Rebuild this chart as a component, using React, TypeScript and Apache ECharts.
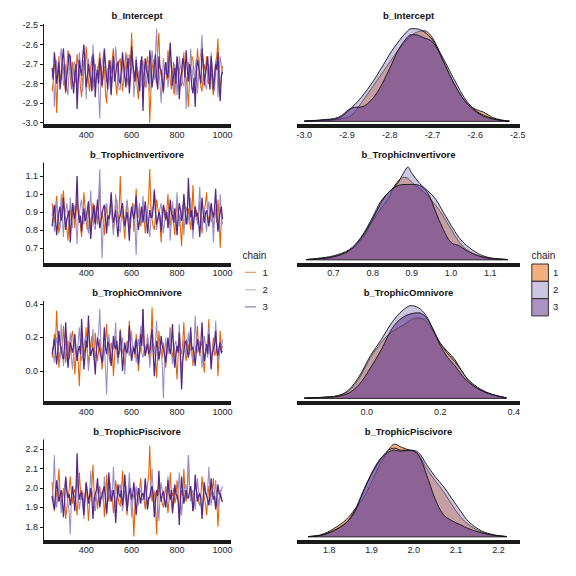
import React, { useEffect, useRef } from "react";
import * as echarts from "echarts";

// ---------- data ----------
const parameters = ["b_Intercept", "b_TrophicInvertivore", "b_TrophicOmnivore", "b_TrophicPiscivore"];
const chains = ["1", "2", "3"];
const chainColors = ["#e66101", "#998ec3", "#542788"];
const firstIteration = 250;
const iterationStep = 5;
const iterationTicks = [400, 600, 800, 1000];

const interceptChain1 = [
  -2.84, -2.79, -2.70, -2.73, -2.95, -2.81, -2.66, -2.75, -2.78, -2.69, -2.72, -2.80, -2.85, -2.71, -2.63, -2.68, -2.76, -2.83, -2.69, -2.74,
  -2.80, -2.76, -2.65, -2.71, -2.74, -2.82, -2.87, -2.77, -2.68, -2.73, -2.61, -2.70, -2.79, -2.84, -2.72, -2.66, -2.83, -2.75, -2.70, -2.78,
  -2.76, -2.70, -2.64, -2.77, -2.82, -2.74, -2.71, -2.85, -2.90, -2.78, -2.68, -2.72, -2.75, -2.67, -2.62, -2.73, -2.80, -2.86, -2.73, -2.69,
  -2.67, -2.75, -2.84, -2.78, -2.70, -2.64, -2.77, -2.81, -2.65, -2.71, -2.54, -2.69, -2.79, -2.74, -2.72, -2.83, -2.88, -2.76, -2.68, -2.73,
  -2.74, -2.79, -2.82, -2.70, -2.66, -2.77, -3.00, -2.84, -2.73, -2.68, -2.69, -2.76, -2.80, -2.63, -2.54, -2.72, -2.76, -2.81, -2.85, -2.74,
  -2.70, -2.78, -2.63, -2.72, -2.78, -2.83, -2.74, -2.69, -2.86, -2.75, -2.67, -2.73, -2.72, -2.80, -2.81, -2.71, -2.64, -2.76, -2.77, -2.82,
  -2.92, -2.77, -2.71, -2.66, -2.68, -2.75, -2.79, -2.73, -2.62, -2.70, -2.75, -2.82, -2.84, -2.76, -2.70, -2.74, -2.66, -2.79, -2.80, -2.72,
  -2.73, -2.81, -2.86, -2.75, -2.69, -2.66, -2.57, -2.74, -2.82, -2.77, -2.71,
];
const interceptChain2 = [
  -2.77, -2.71, -2.92, -2.80, -2.68, -2.76, -2.74, -2.67, -2.62, -2.73, -2.81, -2.78, -2.70, -2.82, -2.86, -2.72, -2.66, -2.79, -2.75, -2.70,
  -2.69, -2.77, -2.83, -2.74, -2.64, -2.71, -2.78, -2.84, -2.72, -2.69, -2.88, -2.75, -2.67, -2.73, -2.76, -2.80, -2.60, -2.70, -2.82, -2.77,
  -2.71, -2.85, -2.98, -2.76, -2.70, -2.66, -2.63, -2.74, -2.79, -2.72, -2.74, -2.81, -2.85, -2.77, -2.68, -2.73, -2.61, -2.70, -2.77, -2.83,
  -2.83, -2.75, -2.69, -2.78, -2.75, -2.70, -2.65, -2.72, -2.80, -2.76, -2.72, -2.67, -2.87, -2.79, -2.66, -2.73, -2.74, -2.84, -2.81, -2.71,
  -2.68, -2.74, -2.77, -2.82, -2.71, -2.76, -2.84, -2.70, -2.63, -2.69, -2.78, -2.65, -2.52, -2.71, -2.73, -2.80, -2.90, -2.77, -2.67, -2.74,
  -2.75, -2.69, -2.82, -2.76, -2.64, -2.72, -2.79, -2.85, -2.70, -2.74, -2.86, -2.78, -2.66, -2.71, -2.74, -2.80, -2.81, -2.73, -2.93, -2.79,
  -2.69, -2.75, -2.62, -2.71, -2.78, -2.83, -2.72, -2.67, -2.85, -2.76, -2.68, -2.64, -2.55, -2.72, -2.76, -2.81, -2.83, -2.74, -2.70, -2.77,
  -2.64, -2.72, -2.79, -2.84, -2.73, -2.68, -2.87, -2.76, -2.66, -2.71, -2.75,
];
const interceptChain3 = [
  -2.72, -2.78, -2.64, -2.70, -2.80, -2.75, -2.69, -2.83, -2.77, -2.68, -2.62, -2.73, -2.84, -2.76, -2.71, -2.65, -2.66, -2.74, -2.79, -2.85,
  -2.74, -2.70, -2.93, -2.79, -2.68, -2.73, -2.76, -2.66, -2.60, -2.72, -2.82, -2.77, -2.70, -2.75, -2.78, -2.84, -2.65, -2.71, -2.87, -2.76,
  -2.73, -2.80, -2.67, -2.72, -2.81, -2.75, -2.62, -2.70, -2.77, -2.83, -2.71, -2.68, -2.86, -2.74, -2.66, -2.79, -2.75, -2.70, -2.69, -2.78,
  -2.80, -2.73, -2.64, -2.71, -2.76, -2.82, -2.72, -2.67, -2.85, -2.77, -2.61, -2.70, -2.74, -2.79, -2.68, -2.75, -2.79, -2.84, -2.70, -2.66,
  -2.94, -2.76, -2.67, -2.73, -2.75, -2.80, -2.63, -2.70, -2.82, -2.77, -2.71, -2.65, -2.78, -2.83, -2.66, -2.72, -2.73, -2.79, -2.84, -2.74,
  -2.69, -2.75, -2.77, -2.68, -2.59, -2.71, -2.81, -2.76, -2.72, -2.80, -2.66, -2.73, -2.88, -2.78, -2.74, -2.67, -2.70, -2.77, -2.63, -2.72,
  -2.79, -2.70, -2.73, -2.82, -2.85, -2.77, -2.92, -2.74, -2.68, -2.71, -2.76, -2.80, -2.62, -2.69, -2.81, -2.75, -2.71, -2.66, -2.77, -2.83,
  -2.66, -2.74, -2.83, -2.77, -2.70, -2.73, -2.64, -2.80, -2.89, -2.76, -2.74,
];

const invertivoreChain1 = [
  0.95, 0.89, 0.84, 0.92, 0.99, 0.86, 0.78, 0.83, 0.91, 0.96, 1.02, 0.90, 0.86, 0.81, 0.74, 0.87, 0.93, 0.85, 0.88, 0.94,
  0.81, 0.88, 0.97, 0.91, 0.89, 0.82, 0.76, 0.86, 1.01, 0.93, 0.85, 0.80, 0.92, 0.87, 0.79, 0.90, 0.95, 0.84, 0.87, 0.93,
  0.83, 0.91, 1.04, 0.88, 0.90, 0.85, 0.77, 0.89, 0.94, 0.82, 0.86, 0.93, 0.99, 0.87, 0.80, 0.84, 0.92, 0.97, 0.84, 0.90,
  1.10, 0.92, 0.88, 0.83, 0.75, 0.86, 0.96, 0.90, 0.85, 0.81, 0.91, 0.95, 0.79, 0.88, 1.03, 0.89, 0.87, 0.93, 0.82, 0.86,
  0.94, 0.87, 0.78, 0.85, 0.90, 0.98, 1.14, 0.91, 0.86, 0.82, 0.80, 0.88, 0.97, 0.92, 0.89, 0.84, 0.73, 0.86, 0.93, 0.89,
  0.85, 0.91, 1.00, 0.87, 0.82, 0.89, 0.91, 0.84, 0.77, 0.88, 0.95, 0.90, 0.88, 0.81, 0.71, 0.86, 0.98, 0.92, 0.86, 0.83,
  0.92, 0.88, 0.80, 0.86, 1.05, 0.93, 0.87, 0.91, 0.83, 0.89, 0.96, 0.84, 0.78, 0.87, 0.90, 0.95, 1.01, 0.88, 0.85, 0.91,
  0.94, 0.86, 0.81, 0.90, 0.89, 0.84, 0.97, 0.87, 0.70, 0.85, 0.88,
];
const invertivoreChain2 = [
  0.88, 0.93, 0.79, 0.85, 0.96, 0.90, 0.84, 0.81, 1.00, 0.87, 0.76, 0.89, 0.91, 0.95, 0.86, 0.82, 0.98, 0.88, 0.81, 0.92,
  0.93, 0.85, 0.72, 0.87, 0.89, 0.94, 0.97, 0.86, 0.83, 0.90, 0.90, 0.84, 0.78, 0.91, 1.02, 0.88, 0.87, 0.82, 0.80, 0.89,
  0.94, 0.99, 1.14, 0.86, 0.64, 0.83, 0.88, 0.92, 0.95, 0.87, 0.82, 0.90, 0.91, 0.85, 0.77, 0.88, 1.00, 0.93, 0.86, 0.80,
  0.79, 0.87, 0.92, 0.88, 0.85, 0.91, 0.97, 0.89, 0.81, 0.86, 0.89, 0.93, 0.94, 0.82, 0.66, 0.85, 0.90, 0.95, 0.84, 0.88,
  0.99, 0.90, 0.83, 0.89, 0.87, 0.82, 0.76, 0.86, 0.93, 0.91, 1.03, 0.94, 0.80, 0.85, 0.88, 0.92, 0.95, 0.87, 0.78, 0.84,
  0.91, 0.87, 0.86, 0.92, 0.74, 0.85, 0.96, 0.89, 0.84, 0.90, 1.01, 0.88, 0.82, 0.86, 0.89, 0.94, 0.77, 0.87, 0.93, 0.90,
  0.87, 0.83, 0.98, 0.91, 0.75, 0.88, 0.90, 0.86, 0.85, 0.93, 1.04, 0.89, 0.81, 0.87, 0.92, 0.85, 0.79, 0.90, 0.96, 0.88,
  0.84, 0.89, 0.73, 0.86, 0.91, 0.94, 0.87, 0.82, 1.00, 0.90, 0.83,
];
const invertivoreChain3 = [
  0.82, 0.88, 0.94, 0.86, 0.77, 0.84, 0.90, 0.93, 0.85, 0.89, 0.98, 0.87, 0.80, 0.86, 0.88, 0.91, 0.73, 0.85, 0.95, 0.89,
  0.86, 0.93, 1.10, 0.90, 0.84, 0.88, 0.79, 0.87, 0.92, 0.85, 0.87, 0.91, 0.96, 0.86, 0.75, 0.84, 0.90, 0.94, 0.83, 0.89,
  0.97, 0.88, 0.81, 0.85, 0.89, 0.92, 0.94, 0.87, 0.78, 0.88, 0.86, 0.90, 1.01, 0.91, 0.84, 0.87, 0.91, 0.83, 0.76, 0.86,
  0.88, 0.92, 0.95, 0.87, 0.82, 0.86, 0.90, 0.84, 0.74, 0.88, 0.93, 0.89, 0.86, 0.91, 0.99, 0.87, 0.80, 0.85, 0.89, 0.93,
  0.84, 0.89, 0.96, 0.88, 0.78, 0.85, 0.91, 0.87, 0.87, 0.92, 1.02, 0.90, 0.83, 0.86, 0.90, 0.88, 0.79, 0.87, 0.94, 0.91,
  0.86, 0.90, 0.81, 0.87, 0.97, 0.89, 0.88, 0.84, 0.92, 0.86, 0.77, 0.88, 0.95, 0.91, 0.85, 0.89, 1.00, 0.92, 0.83, 0.87,
  1.09, 0.94, 0.87, 0.91, 0.80, 0.86, 0.93, 0.88, 0.89, 0.85, 0.76, 0.87, 0.98, 0.90, 0.84, 0.89, 0.91, 0.86, 0.82, 0.88,
  0.95, 0.90, 0.87, 0.92, 1.03, 0.88, 0.79, 0.85, 0.90, 0.93, 0.86,
];

const omnivoreChain1 = [
  0.08, 0.14, 0.22, 0.17, 0.36, 0.19, 0.02, 0.09, 0.15, 0.11, 0.27, 0.16, 0.05, 0.12, 0.18, 0.07, 0.11, 0.20, 0.24, 0.13,
  -0.02, 0.08, 0.13, 0.05, -0.09, 0.10, 0.20, 0.15, 0.09, 0.14, 0.26, 0.12, 0.04, 0.11, 0.16, 0.21, 0.12, 0.07, 0.23, 0.13,
  0.06, 0.12, 0.19, 0.10, 0.01, 0.09, 0.14, 0.18, 0.28, 0.15, 0.10, 0.05, 0.17, 0.13, -0.03, 0.08, 0.21, 0.16, 0.08, 0.11,
  0.25, 0.14, 0.12, 0.09, 0.03, 0.11, 0.18, 0.13, 0.30, 0.17, 0.07, 0.12, 0.15, 0.08, 0.22, 0.16, 0.00, 0.10, 0.13, 0.19,
  0.37, 0.15, 0.09, 0.13, 0.20, 0.11, 0.05, 0.18, 0.38, 0.16, 0.14, 0.07, -0.04, 0.10, 0.24, 0.14, 0.11, 0.08, 0.17, 0.12,
  0.02, 0.10, 0.19, 0.13, 0.26, 0.15, 0.08, 0.12, 0.13, 0.06, -0.05, 0.09, 0.21, 0.14, 0.10, 0.17, 0.29, 0.12, 0.06, 0.11,
  0.16, 0.10, 0.23, 0.14, 0.03, 0.09, 0.12, 0.17, 0.27, 0.13, 0.09, 0.15, 0.18, 0.07, -0.01, 0.11, 0.14, 0.19, 0.31, 0.12,
  0.07, 0.13, 0.20, 0.09, 0.11, 0.16, -0.03, 0.08, 0.24, 0.12, 0.15,
];
const omnivoreChain2 = [
  0.14, 0.10, 0.05, 0.16, 0.20, 0.12, 0.11, 0.07, 0.28, 0.15, 0.03, 0.11, 0.17, 0.21, 0.09, 0.13, 0.23, 0.08, 0.01, 0.12,
  0.18, 0.09, 0.12, 0.17, 0.26, 0.14, 0.06, 0.10, 0.15, 0.19, 0.21, 0.12, 0.00, 0.08, 0.13, 0.16, 0.25, 0.11, 0.08, 0.14,
  0.19, 0.23, 0.37, 0.15, 0.10, 0.06, 0.16, 0.02, -0.14, 0.09, 0.22, 0.13, 0.07, 0.12, 0.14, 0.18, 0.29, 0.11, 0.04, 0.10,
  0.12, 0.16, 0.20, 0.08, -0.02, 0.10, 0.17, 0.13, 0.09, 0.15, 0.24, 0.11, 0.13, 0.18, 0.05, 0.12, 0.19, 0.14, 0.27, 0.10,
  0.08, 0.13, 0.15, 0.11, 0.22, 0.16, 0.02, 0.09, 0.18, 0.12, 0.11, 0.17, 0.30, 0.14, 0.06, 0.10, 0.14, 0.03, -0.16, 0.07,
  0.20, 0.13, 0.10, 0.15, 0.25, 0.12, 0.04, 0.09, 0.16, 0.18, 0.12, 0.14, 0.28, 0.11, -0.01, 0.08, 0.19, 0.13, 0.09, 0.15,
  0.23, 0.12, 0.14, 0.09, 0.06, 0.15, 0.33, 0.17, 0.11, 0.13, 0.18, 0.10, 0.02, 0.12, 0.21, 0.16, 0.13, 0.08, 0.26, 0.14,
  0.08, 0.11, 0.17, 0.13, 0.30, 0.16, 0.05, 0.10, 0.15, 0.12, 0.19,
];
const omnivoreChain3 = [
  0.10, 0.14, 0.19, 0.12, 0.04, 0.11, 0.24, 0.16, 0.13, 0.09, 0.07, 0.15, 0.29, 0.13, 0.02, 0.10, 0.17, 0.14, 0.11, 0.16,
  0.22, 0.13, 0.06, 0.12, 0.15, 0.10, 0.31, 0.17, 0.01, 0.09, 0.18, 0.14, 0.33, 0.16, 0.09, 0.12, 0.14, 0.08, -0.02, 0.11,
  0.20, 0.15, 0.12, 0.09, 0.05, 0.13, 0.26, 0.14, 0.10, 0.17, 0.16, 0.11, 0.03, 0.10, 0.21, 0.15, 0.13, 0.18, 0.08, 0.12,
  0.24, 0.13, 0.00, 0.09, 0.17, 0.12, 0.11, 0.15, 0.27, 0.14, 0.06, 0.11, 0.14, 0.10, 0.19, 0.13, 0.04, 0.12, 0.22, 0.15,
  0.37, 0.16, 0.09, 0.13, 0.16, 0.10, 0.12, 0.19, 0.25, 0.11, -0.03, 0.08, 0.18, 0.14, 0.07, 0.12, 0.21, 0.15, 0.13, 0.10,
  0.05, 0.12, 0.20, 0.14, 0.10, 0.16, 0.28, 0.13, 0.02, 0.09, 0.15, 0.11, 0.23, 0.08, -0.11, 0.06, 0.12, 0.17, 0.18, 0.12,
  0.08, 0.14, 0.26, 0.13, 0.14, 0.10, 0.03, 0.12, 0.19, 0.15, 0.11, 0.17, 0.29, 0.13, 0.06, 0.11, 0.16, 0.10, 0.22, 0.14,
  0.01, 0.10, 0.13, 0.16, 0.24, 0.12, 0.09, 0.14, 0.17, 0.11, 0.12,
];

const piscivoreChain1 = [
  2.03, 1.95, 1.88, 1.93, 1.97, 2.02, 2.10, 1.98, 1.91, 1.96, 2.00, 1.94, 1.84, 1.90, 1.95, 1.99, 2.06, 1.97, 1.92, 1.98,
  1.99, 1.93, 1.86, 1.95, 2.08, 1.99, 1.94, 1.98, 1.90, 1.96, 2.02, 1.94, 1.83, 1.92, 1.97, 2.01, 2.12, 1.98, 1.93, 1.96,
  1.89, 1.97, 2.01, 1.94, 1.96, 1.99, 1.85, 1.93, 2.07, 1.98, 1.93, 1.97, 1.99, 1.95, 1.87, 1.94, 2.04, 1.99, 1.95, 1.92,
  1.91, 1.98, 2.09, 1.97, 1.98, 1.93, 1.86, 1.95, 2.03, 1.96, 1.94, 1.89, 1.75, 1.92, 2.00, 1.96, 1.92, 1.99, 2.05, 1.97,
  1.97, 1.94, 1.89, 1.96, 2.02, 2.06, 2.22, 2.00, 1.93, 1.97, 1.98, 1.91, 1.76, 1.93, 2.06, 1.99, 1.95, 1.92, 1.90, 1.96,
  2.01, 1.95, 1.87, 1.94, 2.08, 1.98, 1.96, 2.00, 1.92, 1.95, 2.04, 1.97, 1.85, 1.93, 1.99, 1.96, 2.10, 1.98, 1.93, 1.97,
  2.17, 2.00, 1.94, 1.97, 1.88, 1.95, 2.03, 1.98, 1.97, 1.93, 1.91, 1.96, 2.06, 1.99, 1.95, 1.92, 1.86, 1.94, 2.01, 1.97,
  1.96, 1.99, 2.05, 1.96, 1.90, 1.94, 1.80, 1.92, 1.99, 1.95, 1.93,
];
const piscivoreChain2 = [
  1.94, 2.00, 2.17, 1.97, 1.90, 1.95, 2.02, 1.96, 1.87, 1.93, 1.98, 2.01, 2.05, 1.97, 1.92, 1.88, 1.76, 1.94, 2.00, 1.96,
  1.95, 1.99, 2.07, 1.96, 1.89, 1.94, 1.99, 1.92, 1.84, 1.95, 2.03, 1.98, 1.93, 1.97, 2.09, 1.99, 1.96, 1.91, 1.88, 1.95,
  2.01, 1.96, 1.91, 1.98, 1.97, 1.93, 2.06, 1.99, 1.86, 1.94, 1.99, 2.03, 1.94, 1.97, 2.11, 1.98, 1.90, 1.95, 1.96, 2.00,
  2.02, 1.95, 1.88, 1.94, 1.98, 2.01, 1.93, 1.97, 2.08, 1.98, 1.85, 1.93, 1.97, 1.94, 2.01, 1.96, 1.91, 1.98, 1.99, 1.94,
  1.94, 1.98, 2.04, 1.95, 1.89, 1.93, 1.96, 2.01, 2.10, 1.97, 1.92, 1.96, 1.99, 1.93, 1.83, 1.95, 2.03, 1.99, 1.95, 1.92,
  1.90, 1.96, 2.06, 1.98, 1.97, 1.93, 1.88, 1.95, 2.01, 1.97, 1.94, 1.99, 2.08, 1.96, 1.86, 1.94, 1.98, 2.00, 2.02, 1.95,
  2.17, 2.01, 1.93, 1.97, 1.99, 1.94, 1.89, 1.96, 2.05, 1.98, 1.95, 1.92, 1.87, 1.96, 2.03, 1.97, 1.96, 2.00, 2.11, 1.97,
  1.91, 1.96, 1.98, 1.94, 2.04, 1.97, 1.90, 1.95, 1.97, 1.99, 2.01,
];
const piscivoreChain3 = [
  1.96, 1.92, 1.89, 1.97, 2.04, 1.98, 1.93, 1.96, 1.99, 1.94, 1.85, 1.93, 2.06, 1.99, 1.95, 1.97, 1.91, 1.95, 2.01, 1.96,
  1.88, 1.97, 2.18, 2.01, 1.94, 1.97, 1.98, 1.93, 1.86, 1.95, 2.03, 1.98, 1.92, 1.96, 2.00, 1.95, 1.84, 1.93, 1.97, 1.99,
  2.05, 1.97, 1.90, 1.95, 1.96, 1.99, 2.01, 1.94, 1.87, 1.95, 2.08, 1.98, 1.93, 1.96, 1.99, 1.94, 1.82, 1.93, 2.02, 1.97,
  1.95, 1.99, 1.91, 1.96, 2.07, 1.98, 1.88, 1.94, 1.98, 2.00, 1.94, 1.97, 2.03, 1.95, 1.86, 1.94, 2.00, 1.96, 1.92, 1.97,
  1.97, 1.94, 2.05, 1.98, 1.89, 1.95, 1.95, 1.99, 2.01, 1.96, 1.85, 1.93, 1.99, 1.96, 2.09, 1.98, 1.93, 1.97, 1.98, 1.94,
  1.90, 1.96, 2.04, 1.97, 1.94, 1.99, 1.87, 1.94, 2.02, 1.97, 1.96, 1.93, 1.81, 1.95, 2.06, 1.98, 1.92, 1.96, 1.99, 1.95,
  1.95, 1.98, 2.01, 1.96, 1.88, 1.94, 2.07, 1.99, 1.93, 1.96, 1.97, 1.95, 1.84, 1.93, 2.03, 1.98, 1.96, 1.94, 1.91, 1.97,
  2.05, 1.98, 1.94, 1.96, 1.89, 1.95, 2.02, 1.97, 1.97, 1.94, 1.93,
];

// density curves (relative heights) per chain, at the listed parameter values
const interceptDensityX = [-3.00, -2.96, -2.92, -2.89, -2.86, -2.83, -2.80, -2.78, -2.76, -2.75, -2.74, -2.72, -2.70, -2.68, -2.66, -2.64, -2.62, -2.60, -2.58, -2.56, -2.54, -2.52];
const interceptDensity1 = [0.2, 1, 2, 6, 22, 40, 58, 70, 80, 84, 87, 89, 82, 64, 46, 30, 18, 12, 9, 4, 1.5, 0.3];
const interceptDensity2 = [0.3, 1, 3, 13, 27, 45, 66, 78, 88, 91, 91, 88, 80, 66, 50, 34, 20, 11, 6, 3, 1, 0.3];
const interceptDensity3 = [0.3, 1.5, 4, 13, 15, 28, 52, 70, 82, 85, 85, 82, 78, 64, 46, 30, 18, 10, 5, 2.5, 1, 0.3];

const invertivoreDensityX = [0.63, 0.66, 0.70, 0.74, 0.77, 0.80, 0.82, 0.84, 0.86, 0.88, 0.89, 0.90, 0.92, 0.94, 0.96, 0.98, 1.00, 1.02, 1.04, 1.07, 1.10, 1.145];
const invertivoreDensity1 = [0.3, 1, 3, 9, 19, 38, 50, 60, 75, 81, 80, 76, 70, 63, 54, 43, 30, 18, 10, 4, 1.5, 0.3];
const invertivoreDensity2 = [0.3, 1.5, 4, 10, 22, 42, 57, 66, 73, 86, 91, 85, 75, 68, 60, 47, 34, 22, 14, 6, 2, 0.3];
const invertivoreDensity3 = [0.3, 1, 3, 9, 21, 40, 55, 66, 72, 74, 74, 74, 73, 66, 48, 30, 17, 14, 9, 4, 1.5, 0.3];

const omnivoreDensityX = [-0.17, -0.12, -0.08, -0.05, -0.02, 0.01, 0.04, 0.06, 0.08, 0.10, 0.12, 0.14, 0.16, 0.18, 0.20, 0.22, 0.24, 0.26, 0.28, 0.31, 0.34, 0.38];
const omnivoreDensity1 = [0.3, 1, 2.5, 7, 20, 40, 55, 63, 68, 72, 77, 79, 76, 66, 54, 46, 38, 26, 16, 8, 3.5, 0.5];
const omnivoreDensity2 = [0.3, 1, 2.5, 8, 22, 42, 58, 70, 80, 87, 91, 89, 82, 68, 54, 44, 36, 26, 17, 9, 4, 0.5];
const omnivoreDensity3 = [0.3, 1, 2, 5, 14, 30, 48, 63, 74, 80, 83, 84, 80, 68, 52, 40, 32, 22, 15, 8, 4, 0.5];

const piscivoreDensityX = [1.75, 1.78, 1.81, 1.84, 1.86, 1.88, 1.90, 1.92, 1.94, 1.955, 1.97, 1.99, 2.01, 2.03, 2.05, 2.07, 2.09, 2.11, 2.13, 2.16, 2.19, 2.22];
const piscivoreDensity1 = [0.3, 2, 8, 17, 27, 38, 54, 72, 86, 92, 89, 86, 82, 68, 56, 45, 32, 20, 12, 5, 1.5, 0.3];
const piscivoreDensity2 = [0.3, 1.5, 6, 14, 24, 44, 62, 76, 86, 88, 86, 86, 84, 72, 60, 50, 38, 26, 15, 6, 2, 0.3];
const piscivoreDensity3 = [0.3, 1.5, 6, 14, 26, 45, 63, 77, 84, 86, 85, 86, 82, 62, 38, 22, 16, 12, 8, 4, 1.5, 0.3];

const interceptTicks = [-3.0, -2.9, -2.8, -2.7, -2.6, -2.5];
const invertivoreTicks = [0.7, 0.8, 0.9, 1.0, 1.1];
const omnivoreTicks = [0.0, 0.2, 0.4];
const piscivoreTicks = [1.8, 1.9, 2.0, 2.1, 2.2];

// ---------- assembly ----------
const traces = [
  [interceptChain1, interceptChain2, interceptChain3],
  [invertivoreChain1, invertivoreChain2, invertivoreChain3],
  [omnivoreChain1, omnivoreChain2, omnivoreChain3],
  [piscivoreChain1, piscivoreChain2, piscivoreChain3],
];
const densityX = [interceptDensityX, invertivoreDensityX, omnivoreDensityX, piscivoreDensityX];
const densities = [
  [interceptDensity1, interceptDensity2, interceptDensity3],
  [invertivoreDensity1, invertivoreDensity2, invertivoreDensity3],
  [omnivoreDensity1, omnivoreDensity2, omnivoreDensity3],
  [piscivoreDensity1, piscivoreDensity2, piscivoreDensity3],
];
const valueTicks = [interceptTicks, invertivoreTicks, omnivoreTicks, piscivoreTicks];

const FONT = '"Liberation Sans", Arial, Helvetica, sans-serif';
const INK = "#1a1a1a";
const LABEL = "#222228";

function rgba(hex: string, a: number) {
  const n = parseInt(hex.slice(1), 16);
  return `rgba(${(n >> 16) & 255},${(n >> 8) & 255},${n & 255},${a})`;
}

function buildOption() {
  const rowTops = [24, 162.5, 301, 439.5];
  const panelH = 102;
  const leftX = 43, leftW = 188;
  const rightX = 297, rightW = 223;
  const valueLimits = [
    [-3.017, -2.495],
    [0.607, 1.176],
    [-0.19, 0.417],
    [1.724, 2.251],
  ];
  const traceWidths = [1.05, 1.05, 1.25];

  const grid: any[] = [];
  const xAxis: any[] = [];
  const yAxis: any[] = [];
  const series: any[] = [];
  const graphic: any[] = [];

  const fmt = (v: number) => Number(v).toFixed(1);

  for (let r = 0; r < 4; r++) {
    const top = rowTops[r];
    grid.push({ left: leftX, top, width: leftW, height: panelH });
    grid.push({ left: rightX, top, width: rightW, height: panelH });
    const gl = 2 * r, gr = 2 * r + 1;

    xAxis.push({
      gridIndex: gl, type: "value", min: 210, max: 1037.5,
      axisLine: { show: true, onZero: false, lineStyle: { color: INK, width: 4, cap: "butt" } },
      axisTick: { show: false },
      splitLine: { show: false },
      axisLabel: {
        customValues: iterationTicks, formatter: (v: number) => String(v),
        fontSize: 9, color: LABEL, margin: 4, fontFamily: FONT,
      },
    });
    yAxis.push({
      gridIndex: gl, type: "value", min: valueLimits[r][0], max: valueLimits[r][1],
      axisLine: { show: true, onZero: false, lineStyle: { color: INK, width: 1, cap: "butt" } },
      axisTick: { show: true, length: 3, customValues: valueTicks[r], lineStyle: { color: INK, width: 1 } },
      splitLine: { show: false },
      axisLabel: {
        customValues: valueTicks[r], formatter: fmt,
        fontSize: 9, color: LABEL, margin: 5, fontFamily: FONT,
      },
    });

    const maxDens = Math.max(...densities[r].flat());
    xAxis.push({
      gridIndex: gr, type: "value", min: valueLimits[r][0], max: valueLimits[r][1],
      axisLine: { show: true, onZero: false, lineStyle: { color: INK, width: 4, cap: "butt" } },
      axisTick: { show: false },
      splitLine: { show: false },
      axisLabel: {
        customValues: valueTicks[r], formatter: fmt,
        fontSize: 9, color: LABEL, margin: 4, fontFamily: FONT,
      },
    });
    yAxis.push({
      gridIndex: gr, type: "value", show: false,
      min: -0.05 * maxDens, max: 1.05 * maxDens,
      splitLine: { show: false },
    });

    // trace lines
    for (let c = 0; c < 3; c++) {
      series.push({
        type: "line", name: chains[c], xAxisIndex: gl, yAxisIndex: gl,
        data: traces[r][c].map((v, i) => [firstIteration + iterationStep * i, v]),
        showSymbol: false, symbol: "none", silent: true,
        lineStyle: { color: chainColors[c], width: traceWidths[c], join: "miter", opacity: 1 },
        z: 2 + c,
      });
    }
    // densities
    for (let c = 0; c < 3; c++) {
      series.push({
        type: "line", name: chains[c], xAxisIndex: gr, yAxisIndex: gr,
        data: densityX[r].map((x, i) => [x, densities[r][c][i]]),
        smooth: 0.35, showSymbol: false, symbol: "none", silent: true,
        lineStyle: { color: "#111", width: 0.9 },
        areaStyle: { color: rgba(chainColors[c], 0.5), opacity: 1, origin: 0 },
        z: 2 + c,
      });
    }
    const xs = densityX[r];
    series.push({
      type: "line", xAxisIndex: gr, yAxisIndex: gr,
      data: [[xs[0], 0], [xs[xs.length - 1], 0]],
      showSymbol: false, symbol: "none", silent: true,
      lineStyle: { color: "#111", width: 0.9 }, z: 6,
    });

    // panel titles
    const ty = top - 8.5;
    graphic.push({
      type: "text", x: leftX + leftW / 2, y: ty,
      style: { text: parameters[r], align: "center", verticalAlign: "middle", fontSize: 9.5, fontWeight: "bold", fontFamily: FONT, fill: "#111" },
    });
    graphic.push({
      type: "text", x: rightX + rightW / 2, y: ty,
      style: { text: parameters[r], align: "center", verticalAlign: "middle", fontSize: 9.5, fontWeight: "bold", fontFamily: FONT, fill: "#111" },
    });
  }

  // legends
  const legY = [272.3, 289.8, 306.9];
  graphic.push({ type: "text", x: 242.5, y: 255, style: { text: "chain", align: "left", verticalAlign: "middle", fontSize: 10, fontFamily: FONT, fill: LABEL } });
  graphic.push({ type: "text", x: 531.5, y: 255, style: { text: "chain", align: "left", verticalAlign: "middle", fontSize: 10, fontFamily: FONT, fill: LABEL } });
  for (let c = 0; c < 3; c++) {
    graphic.push({
      type: "line", shape: { x1: 245, y1: legY[c], x2: 256, y2: legY[c] },
      style: { stroke: chainColors[c], lineWidth: 1, opacity: 0.75 },
    });
    graphic.push({ type: "text", x: 262.5, y: legY[c], style: { text: chains[c], align: "left", verticalAlign: "middle", fontSize: 9.5, fontFamily: FONT, fill: LABEL } });
    graphic.push({
      type: "rect", shape: { x: 531.8, y: 264 + 17.3 * c, width: 16.6, height: 17.3 },
      style: { fill: rgba(chainColors[c], 0.5), stroke: "#333", lineWidth: 1 },
    });
    graphic.push({ type: "text", x: 553, y: legY[c], style: { text: chains[c], align: "left", verticalAlign: "middle", fontSize: 9.5, fontFamily: FONT, fill: LABEL } });
  }

  return {
    animation: false,
    backgroundColor: "#ffffff",
    textStyle: { fontFamily: FONT },
    grid, xAxis, yAxis, series, graphic,
  };
}

export default function App() {
  const ref = useRef<HTMLDivElement>(null);
  useEffect(() => {
    document.body.style.margin = "0";
    if (!ref.current) return;
    const chart = echarts.init(ref.current, undefined, { renderer: "svg" });
    chart.setOption(buildOption() as any);
    return () => chart.dispose();
  }, []);
  return (
    <div
      ref={ref}
      style={{ width: 576, height: 576, position: "absolute", left: 0, top: 0, background: "#fff" }}
    />
  );
}
